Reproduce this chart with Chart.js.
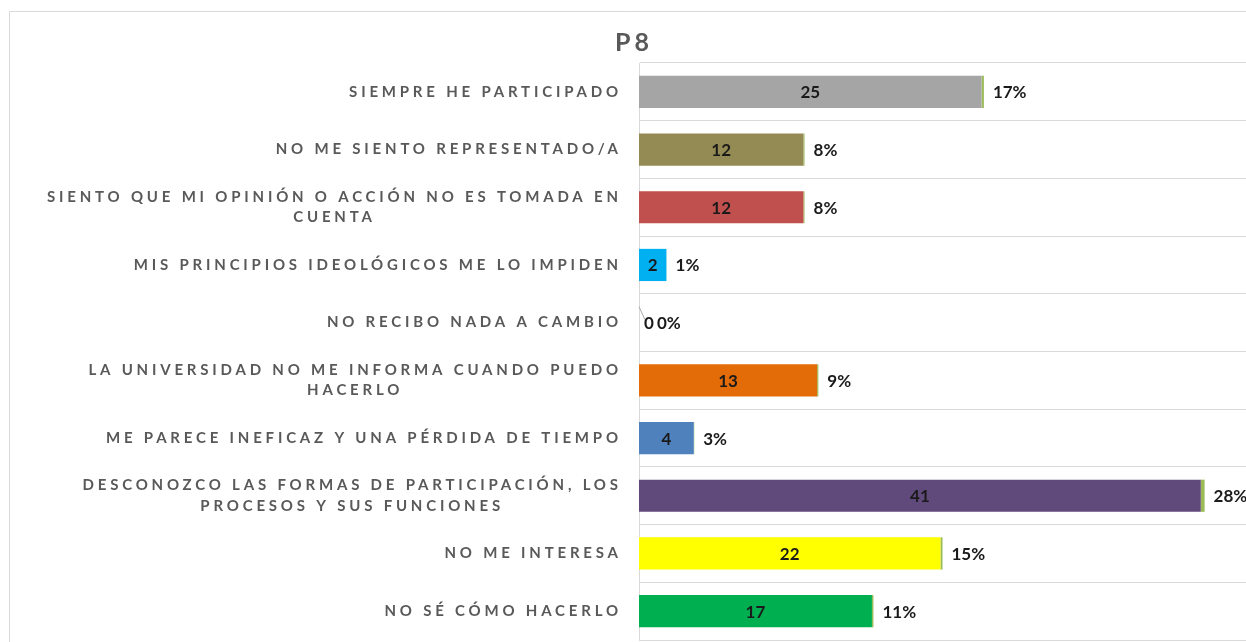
<!DOCTYPE html>
<html>
<head>
<meta charset="utf-8">
<script src="https://cdn.jsdelivr.net/npm/chart.js@4"></script>
<style>
  html, body { margin: 0; padding: 0; background: #fff; overflow: hidden; }
  #wrap { width: 1246px; height: 642px; }
</style>
</head>
<body>
<div id="wrap"><canvas id="myChart"></canvas></div>
<script>
const categorias = [
    ["SIEMPRE HE PARTICIPADO"],
    ["NO ME SIENTO REPRESENTADO/A"],
    ["SIENTO QUE MI OPINIÓN O ACCIÓN NO ES TOMADA EN", "CUENTA"],
    ["MIS PRINCIPIOS IDEOLÓGICOS ME LO IMPIDEN"],
    ["NO RECIBO NADA A CAMBIO"],
    ["LA UNIVERSIDAD NO ME INFORMA CUANDO PUEDO", "HACERLO"],
    ["ME PARECE INEFICAZ Y UNA PÉRDIDA DE TIEMPO"],
    ["DESCONOZCO LAS FORMAS DE PARTICIPACIÓN, LOS", "PROCESOS Y SUS FUNCIONES"],
    ["NO ME INTERESA"],
    ["NO SÉ CÓMO HACERLO"]
];
const cantidades = [25, 12, 12, 2, 0, 13, 4, 41, 22, 17];
const porcentajes = [0.17, 0.08, 0.08, 0.01, 0.00, 0.09, 0.03, 0.28, 0.15, 0.11];
const colores = ["#A5A5A5", "#948A54", "#C0504D", "#00B0F0", "#7F7F7F",
                 "#E36C09", "#4F81BD", "#604A7B", "#FFFF00", "#00B050"];
const colorPorcentaje = "#9BBB59";

const fuente = "Lato, 'Open Sans', sans-serif";

// marco gris y titulo
const marcoPlugin = {
    id: "marco",
    beforeDraw(chart) {
        const c = chart.ctx;
        c.save();
        c.strokeStyle = "#d9d9d9";
        c.lineWidth = 1;
        c.beginPath();
        c.moveTo(9.5, 700);
        c.lineTo(9.5, 11.5);
        c.lineTo(1300, 11.5);
        c.stroke();

        c.fillStyle = "#595959";
        c.font = "bold 25px " + fuente;
        c.letterSpacing = "4px";
        c.textAlign = "center";
        c.textBaseline = "middle";
        c.fillText("P8", 634, 43);
        c.restore();
    }
};

// etiquetas del eje Y con espaciado de letras
const etiquetasPlugin = {
    id: "etiquetasY",
    afterDraw(chart) {
        const c = chart.ctx;
        const escala = chart.scales.y;
        const esp = 3.8;
        c.save();
        c.fillStyle = "#595959";
        c.font = "bold 15px " + fuente;
        c.letterSpacing = esp + "px";
        c.textBaseline = "middle";
        c.textAlign = "center";
        const derecha = 618;
        categorias.forEach((lineas, i) => {
            const y = escala.getPixelForTick(i);
            const anchos = lineas.map(l => c.measureText(l).width - esp);
            const maxAncho = Math.max(...anchos);
            const cx = derecha - maxAncho / 2 + esp / 2;
            const alto = 20.5;
            const y0 = y - (lineas.length - 1) * alto / 2;
            lineas.forEach((l, k) => {
                c.fillText(l, cx, y0 + k * alto);
            });
        });
        c.restore();
    }
};

// valores dentro de la barra y porcentaje al final
const valoresPlugin = {
    id: "valores",
    afterDatasetsDraw(chart) {
        const c = chart.ctx;
        const meta0 = chart.getDatasetMeta(0);
        const meta1 = chart.getDatasetMeta(1);
        c.save();
        c.font = "bold 17px " + fuente;
        c.fillStyle = "#1a1a1a";
        c.textBaseline = "middle";
        meta0.data.forEach((bar, i) => {
            const base = bar.base;
            let cx = (bar.x + base) / 2;
            let px = meta1.data[i].x + 9;
            if (cantidades[i] === 0) {
                cx = base + 10;
                px = base + 18;
                c.save();
                c.strokeStyle = "#a6a6a6";
                c.lineWidth = 1;
                c.beginPath();
                c.moveTo(base, bar.y - 16);
                c.lineTo(base + 6, bar.y - 3);
                c.stroke();
                c.restore();
            }
            c.textAlign = "center";
            c.fillText(String(cantidades[i]), cx, bar.y + 1);
            c.textAlign = "left";
            c.fillText(Math.round(porcentajes[i] * 100) + "%", px, bar.y + 1);
        });
        c.restore();
    }
};

const ctx = document.getElementById("myChart").getContext("2d");

const config = {
    type: "bar",
    data: {
        labels: categorias,
        datasets: [
            {
                label: "Cantidad",
                data: cantidades,
                backgroundColor: colores,
                barPercentage: 0.9,
                categoryPercentage: 0.62
            },
            {
                label: "Porcentaje",
                data: porcentajes,
                backgroundColor: colorPorcentaje,
                barPercentage: 0.9,
                categoryPercentage: 0.62
            }
        ]
    },
    options: {
        indexAxis: "y",
        responsive: true,
        maintainAspectRatio: false,
        animation: false,
        layout: { padding: { left: 639, top: 63, right: 0, bottom: 2 } },
        plugins: {
            legend: { display: false },
            tooltip: { enabled: false }
        },
        scales: {
            x: {
                stacked: true,
                display: false,
                min: 0,
                max: 44.3
            },
            y: {
                stacked: true,
                ticks: { display: false },
                grid: { offset: true, color: "#d9d9d9", drawTicks: false, lineWidth: 1 },
                border: { color: "#d9d9d9" }
            }
        }
    },
    plugins: [marcoPlugin, etiquetasPlugin, valoresPlugin]
};

const myChart = new Chart(ctx, config);
</script>
</body>
</html>
